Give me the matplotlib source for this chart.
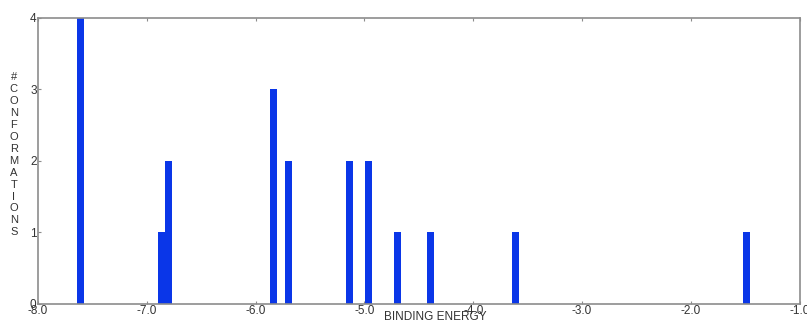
import matplotlib
matplotlib.use('Agg')
import matplotlib.pyplot as plt

plt.rcParams['font.family'] = ['Liberation Sans', 'DejaVu Sans']

# binding energies (bar centres) and number of conformations in each bin
energies = [-7.61, -6.867, -6.80, -5.835, -5.70, -5.133, -4.96, -4.70, -4.39, -3.61, -1.49]
counts = [4, 1, 2, 3, 2, 2, 2, 1, 1, 1, 1]
bin_width = 0.064

xticks = [-8.0, -7.0, -6.0, -5.0, -4.0, -3.0, -2.0, -1.0]
yticks = [0, 1, 2, 3, 4]

fig = plt.figure(figsize=(8.07, 3.26), dpi=100)
ax = fig.add_axes([0.047, 0.0675, 0.944, 0.8775])

ax.bar(energies, counts, width=bin_width, color='#0a36e8', edgecolor='none')

ax.set_xlim(-8.0, -1.0)
ax.set_ylim(0, 4)
ax.set_xticks(xticks)
ax.set_xticklabels(['%.1f' % t for t in xticks])
ax.set_yticks(yticks)

for s in ax.spines.values():
    s.set_color('#8c8c8c')
    s.set_linewidth(1.2)

ax.tick_params(direction='in', length=2, width=0.8, color='#8c8c8c',
               labelsize=8.5, labelcolor='#333333', pad=1, top=True, right=False)

fig.text(0.54, 0.008, 'BINDING ENERGY', ha='center', va='bottom',
         fontsize=8.5, color='#333333')
fig.text(0.017, 0.525, '\n'.join('#CONFORMATIONS'), ha='center', va='center',
         fontsize=8, color='#333333', linespacing=1.24)

fig.savefig('out.png', dpi=100)
